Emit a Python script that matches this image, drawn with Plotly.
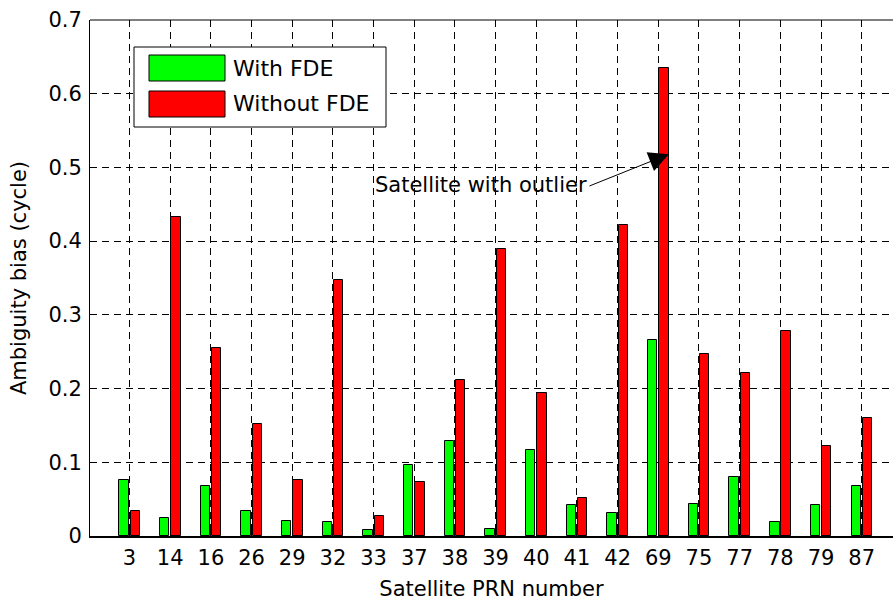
import plotly.graph_objects as go

# ---- data ----
prn_labels = ["3", "14", "16", "26", "29", "32", "33", "37", "38", "39",
              "40", "41", "42", "69", "75", "77", "78", "79", "87"]
with_fde = [0.076, 0.024, 0.068, 0.034, 0.021, 0.019, 0.008, 0.096, 0.129, 0.010,
            0.116, 0.042, 0.031, 0.266, 0.044, 0.080, 0.019, 0.042, 0.068]
without_fde = [0.034, 0.433, 0.255, 0.152, 0.076, 0.347, 0.027, 0.073, 0.212, 0.389,
               0.194, 0.052, 0.422, 0.635, 0.247, 0.221, 0.278, 0.122, 0.160]
series_names = ["With FDE", "Without FDE"]
series_colors = ["#00ff00", "#ff0000"]
y_ticks = [0, 0.1, 0.2, 0.3, 0.4, 0.5, 0.6, 0.7]
y_ticklabels = ["0", "0.1", "0.2", "0.3", "0.4", "0.5", "0.6", "0.7"]

W, H = 893, 601
ML, MR, MT, MB = 90, 0, 20, 65
FONT = "DejaVu Sans"

xs = list(range(len(prn_labels)))

fig = go.Figure()
fig.add_trace(go.Bar(x=xs, y=with_fde, name=series_names[0], width=0.23, offset=-0.25,
                     marker=dict(color=series_colors[0], line=dict(color="black", width=1)),
                     showlegend=False))
fig.add_trace(go.Bar(x=xs, y=without_fde, name=series_names[1], width=0.23, offset=0.025,
                     marker=dict(color=series_colors[1], line=dict(color="black", width=1)),
                     showlegend=False))

pw = W - ML - MR
ph = H - MT - MB


def px(x):
    return (x - ML) / pw


def py(y):
    return (H - MB - y) / ph


shapes = []
annotations = []
# top border
shapes.append(dict(type="line", xref="paper", yref="paper", x0=0, x1=1, y0=1, y1=1,
                   line=dict(color="black", width=1)))
# custom legend box
shapes.append(dict(type="rect", xref="paper", yref="paper",
                   x0=px(134), x1=px(386), y0=py(127), y1=py(47),
                   fillcolor="white", line=dict(color="black", width=1), layer="above"))
sw_top = [55, 91]
for i, (nm, col) in enumerate(zip(series_names, series_colors)):
    t = sw_top[i]
    shapes.append(dict(type="rect", xref="paper", yref="paper",
                       x0=px(149), x1=px(225), y0=py(t + 26), y1=py(t),
                       fillcolor=col, line=dict(color="black", width=1), layer="above"))
    annotations.append(dict(xref="paper", yref="paper", x=px(231), y=py(t + 13),
                            text=nm, showarrow=False, xanchor="left", yanchor="middle",
                            font=dict(family=FONT, size=22, color="black")))

# outlier annotation
annotations.append(dict(x=8.65, y=0.4755, xref="x", yref="y", text="Satellite with outlier",
                        showarrow=False, font=dict(family=FONT, size=21, color="black")))
annotations.append(dict(x=13.26, y=0.518, xref="x", yref="y", ax=11.27, ay=0.474,
                        axref="x", ayref="y", text="", showarrow=True,
                        arrowhead=2, arrowsize=4, arrowwidth=1, arrowcolor="black"))

fig.update_layout(
    width=W, height=H,
    margin=dict(l=ML, r=MR, t=MT, b=MB),
    paper_bgcolor="white", plot_bgcolor="white",
    font=dict(family=FONT, size=21, color="black"),
    shapes=shapes, annotations=annotations,
    bargap=0, barmode="overlay",
)
fig.update_xaxes(
    range=[-0.972, 18.77], tickmode="array", tickvals=xs, ticktext=prn_labels,
    showgrid=True, gridcolor="black", gridwidth=1, griddash="7px,5px",
    showline=True, linecolor="black", linewidth=2,
    ticks="inside", ticklen=6, tickcolor="black",
    tickfont=dict(family=FONT, size=21), ticklabelstandoff=2,
    title=dict(text="Satellite PRN number", font=dict(family=FONT, size=21), standoff=12),
    zeroline=False,
)
fig.update_yaxes(
    range=[0, 0.7], tickmode="array", tickvals=y_ticks, ticktext=y_ticklabels,
    showgrid=True, gridcolor="black", gridwidth=1, griddash="7px,5px",
    showline=True, linecolor="black", linewidth=1,
    ticks="inside", ticklen=6, tickcolor="black",
    tickfont=dict(family=FONT, size=21), ticklabelstandoff=3,
    title=dict(text="Ambiguity bias (cycle)", font=dict(family=FONT, size=21), standoff=16),
    zeroline=False,
)

fig.write_html("out.html")
